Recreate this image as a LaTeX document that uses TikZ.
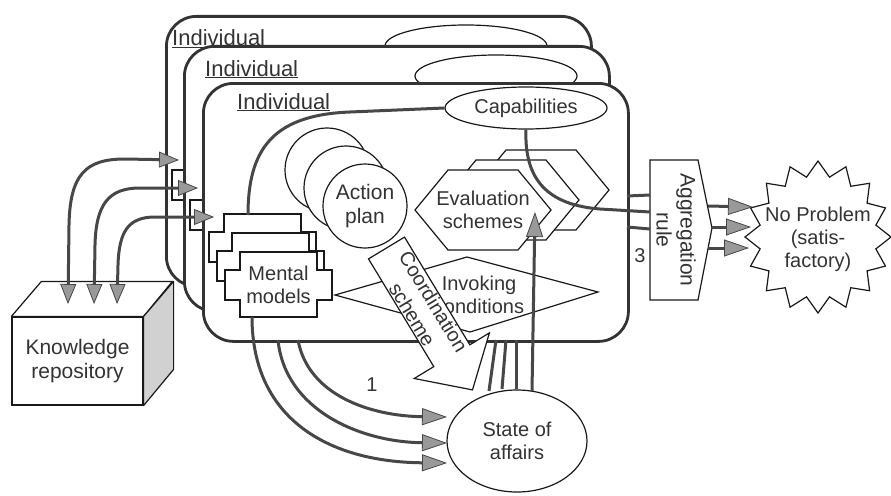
\documentclass[tikz,border=0pt]{standalone}
\usepackage{fontspec}
\setmainfont{Liberation Sans}
\usetikzlibrary{arrows.meta,shapes.geometric}

\tikzset{
  indiv/.style={draw=black!80, line width=2.8pt, rounded corners=30pt, fill=white,
                anchor=north west, inner sep=0pt},
  part/.style={draw=black!90, line width=1.2pt, fill=white},
  txt/.style={text=black!80, inner sep=0pt, align=center},
  who/.style={txt, anchor=base west, font=\fontsize{22}{24}\selectfont},
  link/.style={draw=black!72, line width=3pt},
  gtip/.tip={Triangle[length=25pt, width=17pt, fill=black!40, line width=0.8pt]},
  ktip/.tip={Triangle[length=20pt, width=16pt, fill=black!40, line width=0.8pt]},
}

% stepped outline of a mental model; #1,#2 = top-left corner
\newcommand\mentalshape[2]{%
  \draw[part] (#1+15,#2) -- (#1+92,#2) -- (#1+92,#2+18) -- (#1+107,#2+18)
    -- (#1+107,#2+48) -- (#1+92,#2+48) -- (#1+92,#2+65) -- (#1+15,#2+65)
    -- (#1+15,#2+48) -- (#1,#2+48) -- (#1,#2+18) -- (#1+15,#2+18) -- cycle;}
\newcommand\mentalstack[2]{%
  \mentalshape{#1}{#2}\mentalshape{#1+8}{#2+19}\mentalshape{#1+16}{#2+38}}
% evaluation scheme hexagon centred on #1,#2
\newcommand\evalhex[2]{%
  \draw[part] (#1-68,#2) -- (#1-35,#2-40) -- (#1+35,#2-40) -- (#1+68,#2)
    -- (#1+35,#2+40) -- (#1-35,#2+40) -- cycle;}

\begin{document}
\begin{tikzpicture}[x=1pt, y=-1pt, font=\fontsize{20}{23}\selectfont]
\useasboundingbox (0,0) rectangle (891,495);

% ---- back individual ----
\node[indiv, minimum width=425, minimum height=270] (indA) at (165,15) {};
\node[who] (indAname) at (172,46) {\underline{Individual}};
\node[part, ellipse, minimum width=162, minimum height=42] (capA) at (466,46) {};
\mentalshape{172}{152}

% ---- middle individual ----
\node[indiv, minimum width=425, minimum height=265] (indB) at (183,45) {};
\node[who] (indBname) at (205,76) {\underline{Individual}};
\node[part, ellipse, minimum width=162, minimum height=42] (capB) at (496,76) {};
\mentalshape{190}{182}

% ---- front individual ----
\node[indiv, minimum width=425, minimum height=258] (indC) at (202,82) {};
\node[who] (indCname) at (237,109) {\underline{Individual}};
\node[part, ellipse, minimum width=162, minimum height=42, inner sep=1pt, text=black!80]
  (cap) at (526,108) {Capabilities};

% action plans
\node[part, circle, minimum size=84] (apC) at (327,170) {};
\node[part, circle, minimum size=84] (apB) at (346,188) {};
\node[part, circle, minimum size=84, align=center, text=black!80,
      font=\fontsize{21}{24}\selectfont] (ap) at (365,206) {Action\\plan};

% evaluation schemes
\evalhex{541}{190}
\evalhex{511}{200}
\evalhex{483}{210}
\node[txt] (eval) at (483,210) {Evaluation\\schemes};

% mental models
\mentalstack{209}{214}
\node[txt, minimum width=107, minimum height=65] (mm) at (278.5,284.5) {Mental\\models};

% invoking conditions
\draw[part] (335,295) -- (467,257) -- (598,292) -- (470,332) -- cycle;
\node[txt] (inv) at (479,295) {Invoking\\conditions};

% coordination scheme arrow
\draw[part] (368.5,258.9) -- (404.5,237.1) -- (469.8,344.8) -- (489.4,332.9)
  -- (472.5,389.9) -- (414.2,378.5) -- (433.8,366.6) -- cycle;
\node[txt, rotate=-58.8, font=\fontsize{20}{25}\selectfont] (coord) at (423,308) {Coordination\\scheme};

% capabilities to mental models
\coordinate (mmtop) at (248,215);
\draw[link] (cap.west) -- (350,112) .. controls (272,115) and (248,150) .. (mmtop);

% aggregation rule
\draw[part] (650,160) -- (698,160) -- (712,228) -- (698,300) -- (650,300) -- cycle;
\node[txt, rotate=-90, font=\fontsize{21}{24}\selectfont] (agg) at (676,230) {Aggregation\\rule};

% capabilities and evaluations to aggregation
\coordinate (aggin1) at (650,195);
\coordinate (aggin2) at (650,212);
\coordinate (aggin3) at (650,229);
\coordinate (edge1) at (627,196);
\coordinate (edge3) at (627,227);
\draw[link] (cap.south) .. controls (524,180) and (548,205) .. (600,209) -- (aggin2);
\draw[link] (edge1) -- (aggin1);
\draw[link] (edge3) -- (aggin3);
\node[txt] (three) at (640,256) {3};

% no problem
\draw[part] plot[samples at={0,...,31}, variable=\k]
  ({818+(mod(\k,2)==0 ? 73 : 59)*cos(90+\k*11.25)},
   {237-(mod(\k,2)==0 ? 76 : 61)*sin(90+\k*11.25)}) -- cycle;
\node[txt] (np) at (818,239) {No Problem\\(satis-\\factory)};

\coordinate (aggout1) at (708,206);
\coordinate (aggout2) at (712,227);
\coordinate (aggout3) at (708,248);
\coordinate (np1) at (753,207);
\coordinate (np2) at (751,227);
\coordinate (np3) at (749,248);
\draw[link, -gtip] (aggout1) -- (np1);
\draw[link, -gtip] (aggout2) -- (np2);
\draw[link, -gtip] (aggout3) -- (np3);

% state of affairs
\node[part, ellipse, minimum width=140, minimum height=102, align=center, text=black!80]
  (soa) at (517,441) {State of\\affairs};

% mental models to state of affairs
\coordinate (mmout1) at (252,317);
\coordinate (mmout2) at (278,340);
\coordinate (mmout3) at (298,340);
\coordinate (soain1) at (447,463);
\coordinate (soain2) at (447,443);
\coordinate (soain3) at (447,417);
\draw[link, -gtip] (mmout1) .. controls (252,420) and (330,462) .. (soain1);
\draw[link, -gtip] (mmout2) .. controls (285,410) and (360,442) .. (soain2);
\draw[link, -gtip] (mmout3) .. controls (308,395) and (370,416) .. (soain3);
\node[txt] (one) at (372,385) {1};

% state of affairs back to the individuals
\coordinate (up1) at (496,340);
\coordinate (up2) at (506,340);
\coordinate (up3) at (516,340);
\draw[link] (489,391) -- (up1);
\draw[link] (502,389) -- (up2);
\draw[link] (516,389) -- (up3);
\coordinate (evalin) at (535,212);
\draw[link, -gtip] (532,391) -- (evalin);

% knowledge repository
\node[part, minimum width=131, minimum height=88, inner sep=0pt, align=center, text=black!80,
      font=\fontsize{21}{24}\selectfont]
  (kr) at (77.5,361) {Knowledge\\repository};
\draw[part, line join=round] (kr.north west) -- ++(30,-35) -- ++(131,0) -- (kr.north east) -- cycle;
\draw[part, fill=black!18, line join=round] (kr.north east) -- ++(30,-35) -- ++(0,88) -- (kr.south east) -- cycle;

\coordinate (k1) at (68,304);
\coordinate (k2) at (94,304);
\coordinate (k3) at (117,304);
\coordinate (t1) at (179,160);
\coordinate (t2) at (198,188);
\coordinate (t3) at (214,217);
\draw[link, ktip-ktip] (k1) -- (69,225) .. controls (70,175) and (85,159) .. (125,159) -- (t1);
\draw[link, ktip-ktip] (k2) -- (95,245) .. controls (96,205) and (108,188) .. (140,188) -- (t2);
\draw[link, ktip-ktip] (k3) -- (118,265) .. controls (119,232) and (128,217) .. (155,217) -- (t3);

\end{tikzpicture}
\end{document}
